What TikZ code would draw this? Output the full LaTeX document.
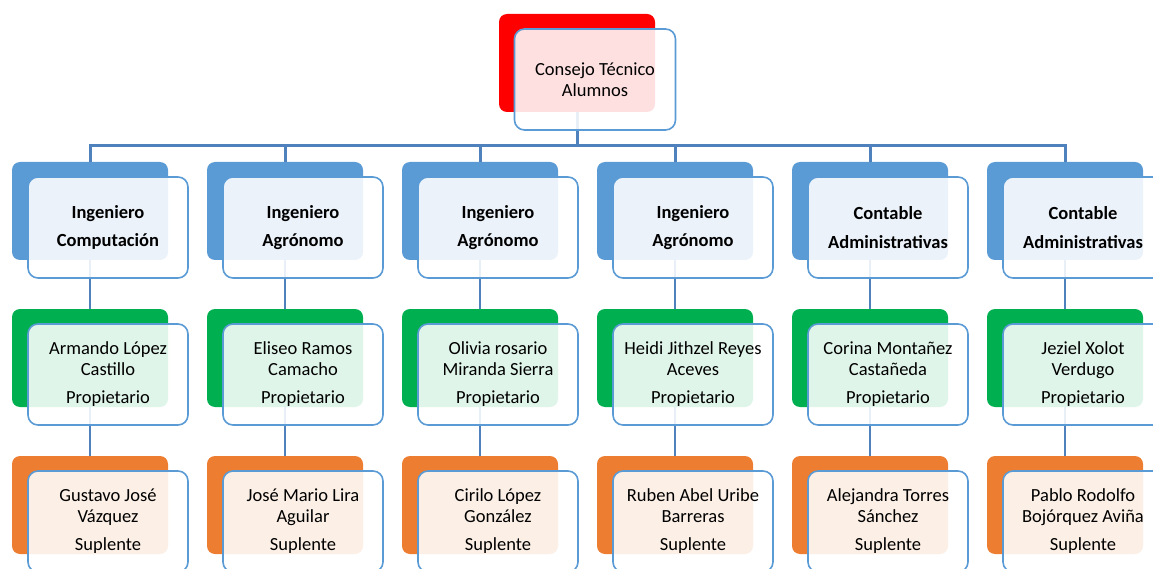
\documentclass[tikz,border=0pt]{standalone}
\usepackage{fontspec}
\setmainfont{Carlito}
\usetikzlibrary{positioning}
\definecolor{cblue}{HTML}{5B9BD5}
\definecolor{cgreen}{HTML}{00B050}
\definecolor{corange}{HTML}{ED7D31}
\definecolor{cred}{HTML}{FF0000}
\definecolor{cline}{HTML}{4F81BD}

\begin{document}
\begin{tikzpicture} [
    x=1pt, y=-1pt,                         % pixel-like coordinates, y going down
    node distance=147pt and 195pt,         % row and column pitch
    font=\fontsize{18.5}{20.5}\selectfont,
    ]
% -------------------------------------------------
\tikzset{
  back/.style={on grid, rounded corners=8pt, inner sep=0pt, minimum width=156pt, minimum height=98pt},
  front/.style={draw=cblue, line width=1.6pt, rounded corners=10pt, fill=white, fill opacity=0.88,
                text opacity=1, inner sep=0pt, align=center, minimum width=160pt, minimum height=101pt,
                xshift=18pt, yshift=-16.5pt},
  bold/.style={front, font=\fontsize{18.5}{20.5}\selectfont\bfseries},
  top/.style={back, fill=cred},
  hdr/.style={back, fill=cblue},
  own/.style={back, fill=cgreen},
  sub/.style={back, fill=corange},
  line/.style={draw=cline, line width=2.5pt},
  bus/.style={draw=cline, line width=3pt}
}
    \useasboundingbox (0,0) rectangle (1153,569);

    % coloured back boxes
    \node [top] (ctab) at (577,63) {};
    \node [hdr] (icob) at (90,211) {};
    \node [hdr, right=of icob] (ia1b) {};
    \node [hdr, right=of ia1b] (ia2b) {};
    \node [hdr, right=of ia2b] (ia3b) {};
    \node [hdr, right=of ia3b] (ca1b) {};
    \node [hdr, right=of ca1b] (ca2b) {};

    \node [own, below=of icob] (alcb) {};
    \node [own, below=of ia1b] (ercb) {};
    \node [own, below=of ia2b] (omsb) {};
    \node [own, below=of ia3b] (hrab) {};
    \node [own, below=of ca1b] (cmcb) {};
    \node [own, below=of ca2b] (jxvb) {};

    \node [sub, below=of alcb] (gjvb) {};
    \node [sub, below=of ercb] (jmlb) {};
    \node [sub, below=of omsb] (clgb) {};
    \node [sub, below=of hrab] (rabb) {};
    \node [sub, below=of cmcb] (atsb) {};
    \node [sub, below=of jxvb] (prbb) {};

    % connectors
    \path [bus] (ctab.south) -- ++(0,33) -| (icob.north);
    \path [bus] (ctab.south) -- ++(0,33) -| (ia1b.north);
    \path [bus] (ctab.south) -- ++(0,33) -| (ia2b.north);
    \path [bus] (ctab.south) -- ++(0,33) -| (ia3b.north);
    \path [bus] (ctab.south) -- ++(0,33) -| (ca1b.north);
    \path [bus] (ctab.south) -- ++(0,33) -| (ca2b.north);

    \path [line] (icob) -- (alcb);
    \path [line] (ia1b) -- (ercb);
    \path [line] (ia2b) -- (omsb);
    \path [line] (ia3b) -- (hrab);
    \path [line] (ca1b) -- (cmcb);
    \path [line] (ca2b) -- (jxvb);

    \path [line] (alcb) -- (gjvb);
    \path [line] (ercb) -- (jmlb);
    \path [line] (omsb) -- (clgb);
    \path [line] (hrab) -- (rabb);
    \path [line] (cmcb) -- (atsb);
    \path [line] (jxvb) -- (prbb);

    % framed text boxes
    \node [front, minimum width=161pt] (cta) at (ctab) {Consejo Técnico\\Alumnos};

    \node [bold] (ico) at (icob) {Ingeniero\\[8pt]Computación};
    \node [bold] (ia1) at (ia1b) {Ingeniero\\[8pt]Agrónomo};
    \node [bold] (ia2) at (ia2b) {Ingeniero\\[8pt]Agrónomo};
    \node [bold] (ia3) at (ia3b) {Ingeniero\\[8pt]Agrónomo};
    \node [bold] (ca1) at (ca1b) {Contable\\[8pt]Administrativas};
    \node [bold] (ca2) at (ca2b) {Contable\\[8pt]Administrativas};

    \node [front] (alc) at (alcb) {Armando López\\Castillo\\[8pt]Propietario};
    \node [front] (erc) at (ercb) {Eliseo Ramos\\Camacho\\[8pt]Propietario};
    \node [front] (oms) at (omsb) {Olivia rosario\\Miranda Sierra\\[8pt]Propietario};
    \node [front] (hra) at (hrab) {Heidi Jithzel Reyes\\Aceves\\[8pt]Propietario};
    \node [front] (cmc) at (cmcb) {Corina Montañez\\Castañeda\\[8pt]Propietario};
    \node [front] (jxv) at (jxvb) {Jeziel Xolot\\Verdugo\\[8pt]Propietario};

    \node [front] (gjv) at (gjvb) {Gustavo José\\Vázquez\\[8pt]Suplente};
    \node [front] (jml) at (jmlb) {José Mario Lira\\Aguilar\\[8pt]Suplente};
    \node [front] (clg) at (clgb) {Cirilo López\\González\\[8pt]Suplente};
    \node [front] (rab) at (rabb) {Ruben Abel Uribe\\Barreras\\[8pt]Suplente};
    \node [front] (ats) at (atsb) {Alejandra Torres\\Sánchez\\[8pt]Suplente};
    \node [front] (prb) at (prbb) {Pablo Rodolfo\\Bojórquez Aviña\\[8pt]Suplente};

\end{tikzpicture}
\end{document}
